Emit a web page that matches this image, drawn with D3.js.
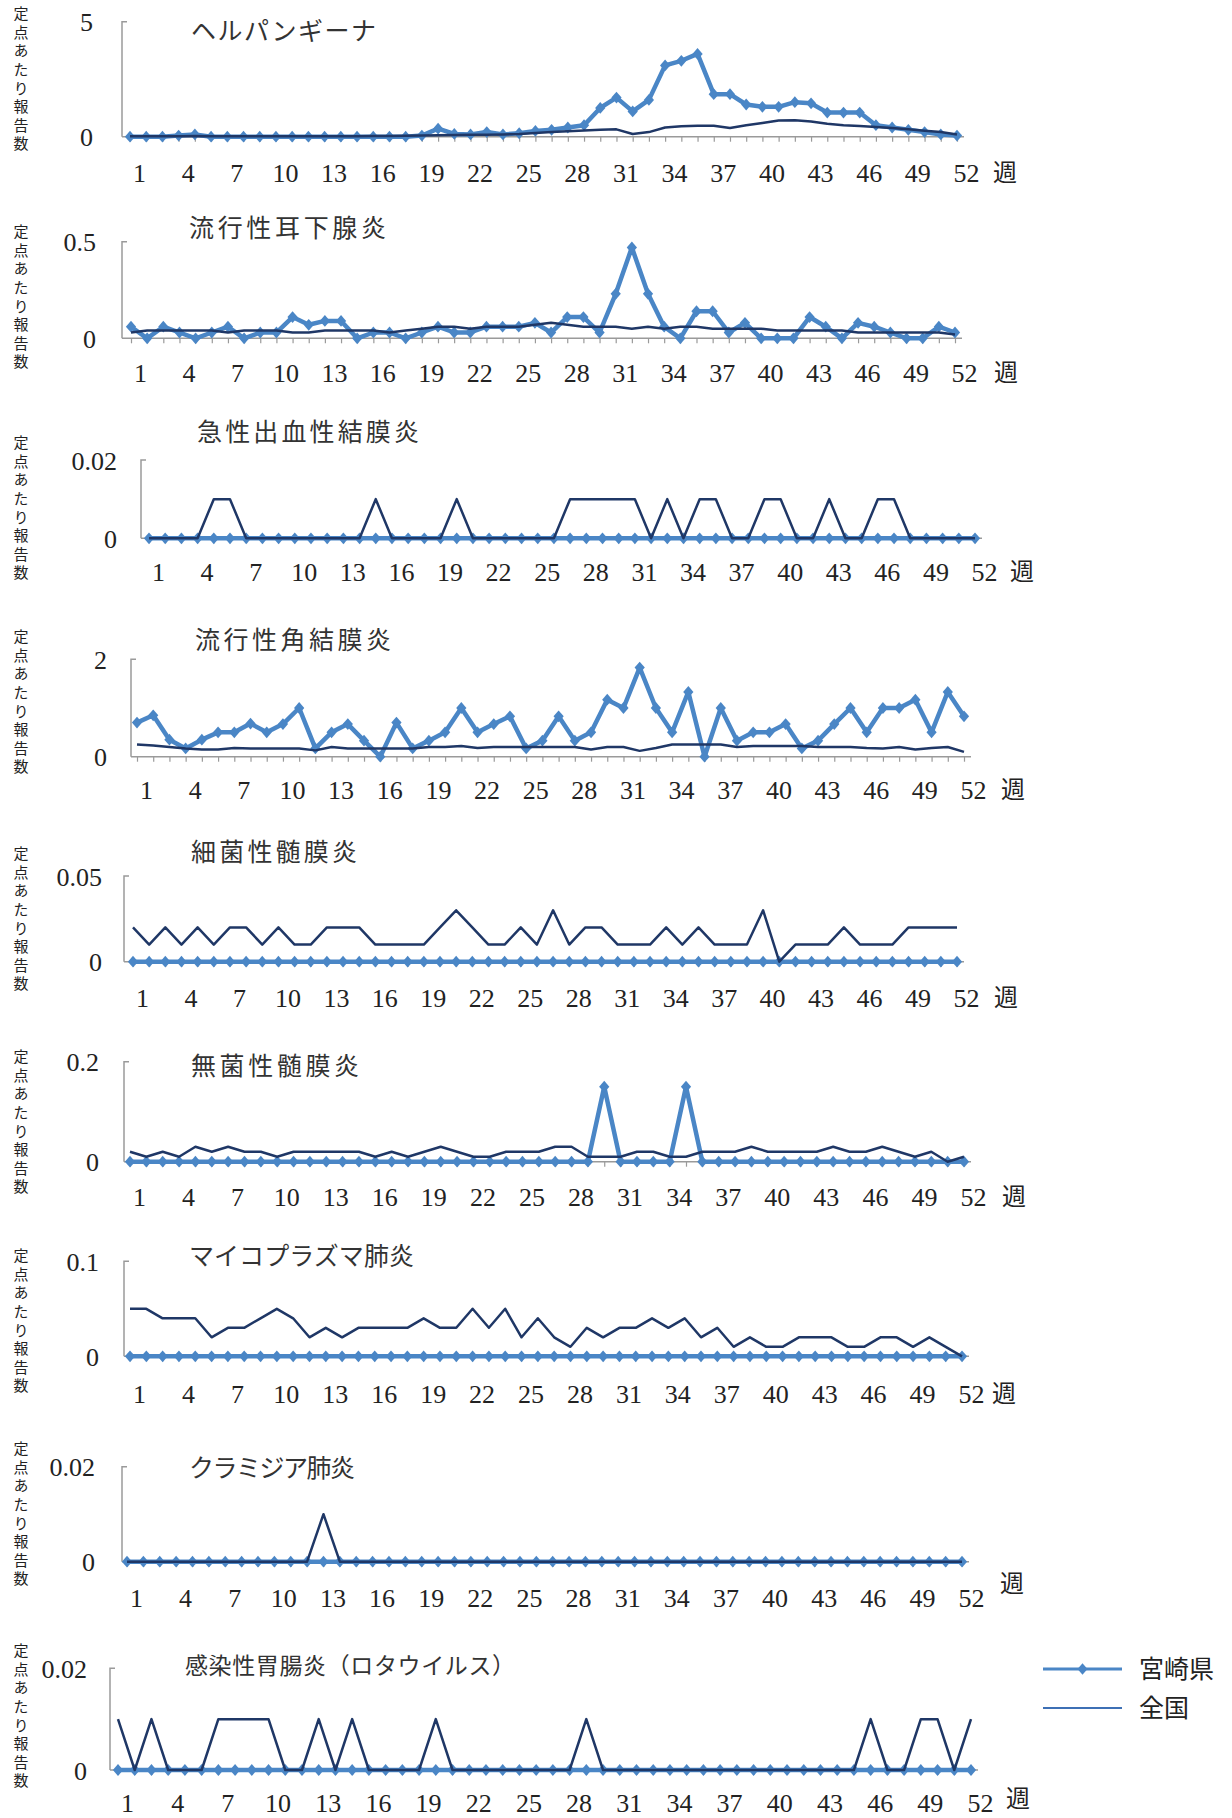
<!DOCTYPE html>
<html>
<head>
<meta charset="utf-8">
<script src="https://cdn.jsdelivr.net/npm/d3@7"></script>
<style>
  body { margin: 0; background: #fff; }
  svg { display: block; }
</style>
</head>
<body>
<svg id="chart"></svg>
<script>
const weeks = d3.range(1, 53);
const weekLabels = [1, 4, 7, 10, 13, 16, 19, 22, 25, 28, 31, 34, 37, 40, 43, 46, 49, 52];
const yAxisTitle = "定点あたり報告数";
const weekUnit = "週";
const legendNames = ["宮崎県", "全国"];

// ヘルパンギーナ
const herpanginaMiyazaki = [0, 0, 0, 0.05, 0.1, 0, 0, 0, 0, 0, 0, 0, 0, 0, 0, 0, 0, 0, 0.05, 0.35, 0.12, 0.1, 0.2, 0.1, 0.15, 0.25, 0.3, 0.4, 0.5, 1.25, 1.7, 1.1, 1.6, 3.1, 3.3, 3.6, 1.85, 1.85, 1.4, 1.3, 1.3, 1.5, 1.45, 1.05, 1.05, 1.05, 0.5, 0.4, 0.3, 0.2, 0.1, 0.05];
const herpanginaNational = [0.02, 0.02, 0.02, 0.02, 0.03, 0.02, 0.02, 0.02, 0.02, 0.02, 0.02, 0.02, 0.02, 0.02, 0.02, 0.03, 0.03, 0.04, 0.05, 0.06, 0.07, 0.08, 0.08, 0.1, 0.12, 0.16, 0.2, 0.24, 0.27, 0.3, 0.32, 0.12, 0.2, 0.4, 0.45, 0.48, 0.48, 0.38, 0.5, 0.6, 0.7, 0.72, 0.66, 0.56, 0.5, 0.46, 0.42, 0.38, 0.32, 0.26, 0.2, 0.1];

// 流行性耳下腺炎
const mumpsMiyazaki = [0.06, 0, 0.06, 0.03, 0, 0.03, 0.06, 0, 0.03, 0.03, 0.11, 0.07, 0.09, 0.09, 0, 0.03, 0.03, 0, 0.03, 0.06, 0.03, 0.03, 0.06, 0.06, 0.06, 0.08, 0.03, 0.11, 0.11, 0.03, 0.23, 0.47, 0.23, 0.06, 0, 0.14, 0.14, 0.03, 0.08, 0, 0, 0, 0.11, 0.06, 0, 0.08, 0.06, 0.03, 0, 0, 0.06, 0.03];
const mumpsNational = [0.03, 0.04, 0.04, 0.04, 0.04, 0.04, 0.03, 0.04, 0.04, 0.04, 0.03, 0.03, 0.04, 0.04, 0.04, 0.04, 0.03, 0.04, 0.05, 0.06, 0.06, 0.05, 0.06, 0.06, 0.06, 0.07, 0.08, 0.07, 0.06, 0.06, 0.06, 0.05, 0.06, 0.05, 0.06, 0.06, 0.05, 0.05, 0.05, 0.05, 0.04, 0.04, 0.04, 0.04, 0.04, 0.03, 0.03, 0.03, 0.03, 0.03, 0.03, 0.02];

// 急性出血性結膜炎
const ahcMiyazaki = [0, 0, 0, 0, 0, 0, 0, 0, 0, 0, 0, 0, 0, 0, 0, 0, 0, 0, 0, 0, 0, 0, 0, 0, 0, 0, 0, 0, 0, 0, 0, 0, 0, 0, 0, 0, 0, 0, 0, 0, 0, 0, 0, 0, 0, 0, 0, 0, 0, 0, 0, 0];
const ahcNational = [0, 0, 0, 0, 0.01, 0.01, 0, 0, 0, 0, 0, 0, 0, 0, 0.01, 0, 0, 0, 0, 0.01, 0, 0, 0, 0, 0, 0, 0.01, 0.01, 0.01, 0.01, 0.01, 0, 0.01, 0, 0.01, 0.01, 0, 0, 0.01, 0.01, 0, 0, 0.01, 0, 0, 0.01, 0.01, 0, 0, 0, 0, 0];

// 流行性角結膜炎
const ekcMiyazaki = [0.7, 0.85, 0.35, 0.17, 0.35, 0.5, 0.5, 0.68, 0.5, 0.67, 1.0, 0.17, 0.5, 0.67, 0.33, 0, 0.7, 0.17, 0.33, 0.5, 1.0, 0.5, 0.67, 0.83, 0.17, 0.33, 0.83, 0.33, 0.5, 1.17, 1.0, 1.83, 1.0, 0.5, 1.33, 0, 1.0, 0.33, 0.5, 0.5, 0.67, 0.17, 0.33, 0.67, 1.0, 0.5, 1.0, 1.0, 1.17, 0.5, 1.33, 0.83];
const ekcNational = [0.25, 0.23, 0.2, 0.17, 0.15, 0.15, 0.18, 0.17, 0.17, 0.17, 0.17, 0.13, 0.2, 0.17, 0.17, 0.17, 0.17, 0.17, 0.2, 0.2, 0.22, 0.18, 0.2, 0.2, 0.2, 0.2, 0.2, 0.2, 0.15, 0.2, 0.2, 0.12, 0.18, 0.25, 0.25, 0.25, 0.25, 0.2, 0.22, 0.22, 0.22, 0.22, 0.2, 0.2, 0.2, 0.18, 0.17, 0.2, 0.15, 0.18, 0.2, 0.1];

// 細菌性髄膜炎
const bmMiyazaki = [0, 0, 0, 0, 0, 0, 0, 0, 0, 0, 0, 0, 0, 0, 0, 0, 0, 0, 0, 0, 0, 0, 0, 0, 0, 0, 0, 0, 0, 0, 0, 0, 0, 0, 0, 0, 0, 0, 0, 0, 0, 0, 0, 0, 0, 0, 0, 0, 0, 0, 0, 0];
const bmNational = [0.02, 0.01, 0.02, 0.01, 0.02, 0.01, 0.02, 0.02, 0.01, 0.02, 0.01, 0.01, 0.02, 0.02, 0.02, 0.01, 0.01, 0.01, 0.01, 0.02, 0.03, 0.02, 0.01, 0.01, 0.02, 0.01, 0.03, 0.01, 0.02, 0.02, 0.01, 0.01, 0.01, 0.02, 0.01, 0.02, 0.01, 0.01, 0.01, 0.03, 0, 0.01, 0.01, 0.01, 0.02, 0.01, 0.01, 0.01, 0.02, 0.02, 0.02, 0.02];

// 無菌性髄膜炎
const amMiyazaki = [0, 0, 0, 0, 0, 0, 0, 0, 0, 0, 0, 0, 0, 0, 0, 0, 0, 0, 0, 0, 0, 0, 0, 0, 0, 0, 0, 0, 0, 0.15, 0, 0, 0, 0, 0.15, 0, 0, 0, 0, 0, 0, 0, 0, 0, 0, 0, 0, 0, 0, 0, 0, 0];
const amNational = [0.02, 0.01, 0.02, 0.01, 0.03, 0.02, 0.03, 0.02, 0.02, 0.01, 0.02, 0.02, 0.02, 0.02, 0.02, 0.01, 0.02, 0.01, 0.02, 0.03, 0.02, 0.01, 0.01, 0.02, 0.02, 0.02, 0.03, 0.03, 0.01, 0.01, 0.01, 0.02, 0.02, 0.01, 0.01, 0.02, 0.02, 0.02, 0.03, 0.02, 0.02, 0.02, 0.02, 0.03, 0.02, 0.02, 0.03, 0.02, 0.01, 0.02, 0, 0.01];

// マイコプラズマ肺炎
const mpMiyazaki = [0, 0, 0, 0, 0, 0, 0, 0, 0, 0, 0, 0, 0, 0, 0, 0, 0, 0, 0, 0, 0, 0, 0, 0, 0, 0, 0, 0, 0, 0, 0, 0, 0, 0, 0, 0, 0, 0, 0, 0, 0, 0, 0, 0, 0, 0, 0, 0, 0, 0, 0, 0];
const mpNational = [0.05, 0.05, 0.04, 0.04, 0.04, 0.02, 0.03, 0.03, 0.04, 0.05, 0.04, 0.02, 0.03, 0.02, 0.03, 0.03, 0.03, 0.03, 0.04, 0.03, 0.03, 0.05, 0.03, 0.05, 0.02, 0.04, 0.02, 0.01, 0.03, 0.02, 0.03, 0.03, 0.04, 0.03, 0.04, 0.02, 0.03, 0.01, 0.02, 0.01, 0.01, 0.02, 0.02, 0.02, 0.01, 0.01, 0.02, 0.02, 0.01, 0.02, 0.01, 0];

// クラミジア肺炎
const cpMiyazaki = [0, 0, 0, 0, 0, 0, 0, 0, 0, 0, 0, 0, 0, 0, 0, 0, 0, 0, 0, 0, 0, 0, 0, 0, 0, 0, 0, 0, 0, 0, 0, 0, 0, 0, 0, 0, 0, 0, 0, 0, 0, 0, 0, 0, 0, 0, 0, 0, 0, 0, 0, 0];
const cpNational = [0, 0, 0, 0, 0, 0, 0, 0, 0, 0, 0, 0, 0.01, 0, 0, 0, 0, 0, 0, 0, 0, 0, 0, 0, 0, 0, 0, 0, 0, 0, 0, 0, 0, 0, 0, 0, 0, 0, 0, 0, 0, 0, 0, 0, 0, 0, 0, 0, 0, 0, 0, 0];

// 感染性胃腸炎（ロタウイルス）
const rotaMiyazaki = [0, 0, 0, 0, 0, 0, 0, 0, 0, 0, 0, 0, 0, 0, 0, 0, 0, 0, 0, 0, 0, 0, 0, 0, 0, 0, 0, 0, 0, 0, 0, 0, 0, 0, 0, 0, 0, 0, 0, 0, 0, 0, 0, 0, 0, 0, 0, 0, 0, 0, 0, 0];
const rotaNational = [0.01, 0, 0.01, 0, 0, 0, 0.01, 0.01, 0.01, 0.01, 0, 0, 0.01, 0, 0.01, 0, 0, 0, 0, 0.01, 0, 0, 0, 0, 0, 0, 0, 0, 0.01, 0, 0, 0, 0, 0, 0, 0, 0, 0, 0, 0, 0, 0, 0, 0, 0, 0.01, 0, 0, 0.01, 0.01, 0, 0.01];

const width = 1232;
const height = 1818;

const colors = {
    miyazaki: "#4a86c6",
    national: "#1f3766",
    legendNational: "#3d70b5",
    axis: "#9a9a9a",
    text: "#222"
};

const serifFont = "'Liberation Serif', 'DejaVu Serif', serif";
const cjkFont = "'Noto Sans CJK JP', 'Noto Sans', sans-serif";

const panels = [
    { title: "ヘルパンギーナ", titleWidth: 185, miyazaki: herpanginaMiyazaki, national: herpanginaNational, max: 5, yLabels: ["0", "5"],
      axisX: 122, x1: 130, x52: 957, yTop: 21.7, y0: 136.7, titleX: 191, titleY: 31.7, labelY: 173, unitX: 1005, unitY: 173, yTitleTop: 6, yGap: 29 },
    { title: "流行性耳下腺炎", titleWidth: 197, miyazaki: mumpsMiyazaki, national: mumpsNational, max: 0.5, yLabels: ["0", "0.5"],
      axisX: 122, x1: 131, x52: 955, yTop: 241.7, y0: 338.3, titleX: 189, titleY: 228, labelY: 373, unitX: 1006, unitY: 373, yTitleTop: 224, yGap: 26 },
    { title: "急性出血性結膜炎", titleWidth: 222, miyazaki: ahcMiyazaki, national: ahcNational, max: 0.02, yLabels: ["0", "0.02"],
      axisX: 141, x1: 149, x52: 975, yTop: 460, y0: 538.3, titleX: 197, titleY: 432, labelY: 572, unitX: 1022, unitY: 572, yTitleTop: 435, yGap: 24 },
    { title: "流行性角結膜炎", titleWidth: 196, miyazaki: ekcMiyazaki, national: ekcNational, max: 2, yLabels: ["0", "2"],
      axisX: 131, x1: 137, x52: 964, yTop: 659.3, y0: 756.7, titleX: 195, titleY: 640, labelY: 790, unitX: 1013, unitY: 790, yTitleTop: 629, yGap: 24 },
    { title: "細菌性髄膜炎", titleWidth: 166, miyazaki: bmMiyazaki, national: bmNational, max: 0.05, yLabels: ["0", "0.05"],
      axisX: 124, x1: 133, x52: 957, yTop: 876, y0: 961.7, titleX: 191, titleY: 852, labelY: 998, unitX: 1006, unitY: 998, yTitleTop: 846, yGap: 22 },
    { title: "無菌性髄膜炎", titleWidth: 168, miyazaki: amMiyazaki, national: amNational, max: 0.2, yLabels: ["0", "0.2"],
      axisX: 124, x1: 130, x52: 964, yTop: 1061.7, y0: 1161.7, titleX: 191, titleY: 1066, labelY: 1197, unitX: 1014, unitY: 1197, yTitleTop: 1049, yGap: 25 },
    { title: "マイコプラズマ肺炎", titleWidth: 225, miyazaki: mpMiyazaki, national: mpNational, max: 0.1, yLabels: ["0", "0.1"],
      axisX: 124, x1: 130, x52: 962, yTop: 1261.3, y0: 1356.3, titleX: 189, titleY: 1256, labelY: 1394, unitX: 1004, unitY: 1394, yTitleTop: 1248, yGap: 25 },
    { title: "クラミジア肺炎", titleWidth: 166, miyazaki: cpMiyazaki, national: cpNational, max: 0.02, yLabels: ["0", "0.02"],
      axisX: 122, x1: 127, x52: 962, yTop: 1466.7, y0: 1561.7, titleX: 189, titleY: 1468, labelY: 1598, unitX: 1012, unitY: 1584, yTitleTop: 1441, yGap: 27 },
    { title: "感染性胃腸炎（ロタウイルス）", titleWidth: 330, miyazaki: rotaMiyazaki, national: rotaNational, max: 0.02, yLabels: ["0", "0.02"],
      axisX: 110, x1: 118, x52: 971, yTop: 1668.3, y0: 1770, titleX: 185, titleY: 1666, labelY: 1803, unitX: 1018, unitY: 1799, yTitleTop: 1643, yGap: 23, titleSize: 23 }
];

const diamond = {
    draw(context, size) {
        const r = Math.sqrt(size) / 2;
        context.moveTo(0, -r * 1.15);
        context.lineTo(r, 0);
        context.lineTo(0, r * 1.15);
        context.lineTo(-r, 0);
        context.closePath();
    }
};

const svg = d3.select("#chart").attr("width", width).attr("height", height).attr("viewBox", `0 0 ${width} ${height}`);
svg.append("rect").attr("width", width).attr("height", height).attr("fill", "#fff");

panels.forEach((p) => drawPanel(svg.append("g").attr("class", "panel"), p));
drawLegend(svg.append("g").attr("class", "legend"));

function drawPanel(g, p) {
    const x = d3.scalePoint().domain(weeks).range([p.x1, p.x52]);
    const y = d3.scaleLinear().domain([0, p.max]).range([p.y0, p.yTop]);

    // vertical y axis title
    g.append("text")
        .attr("x", 21)
        .attr("y", p.yTitleTop)
        .attr("font-family", cjkFont)
        .attr("font-size", 15)
        .attr("fill", colors.text)
        .style("writing-mode", "vertical-rl")
        .style("text-orientation", "upright")
        .style("letter-spacing", "3.6px")
        .text(yAxisTitle);

    // y axis line with small top stub
    g.append("path")
        .attr("d", `M${p.axisX + 5},${y(p.max)}H${p.axisX}V${y(0)}`)
        .attr("fill", "none")
        .attr("stroke", colors.axis)
        .attr("stroke-width", 1.5);

    const yAxis = d3.axisLeft(y).tickValues([0, p.max]).tickSize(0).tickPadding(0).tickFormat((d, i) => p.yLabels[i]);
    const yg = g.append("g").attr("transform", `translate(${p.axisX - p.yGap},0)`).call(yAxis);
    yg.select(".domain").remove();
    yg.selectAll("text")
        .attr("font-family", serifFont)
        .attr("font-size", 26)
        .attr("fill", colors.text)
        .attr("dy", "0.35em");

    // x axis base line and ticks
    g.append("line")
        .attr("x1", p.axisX)
        .attr("x2", x(52) + 7)
        .attr("y1", y(0))
        .attr("y2", y(0))
        .attr("stroke", colors.axis)
        .attr("stroke-width", 1.5);

    const tickAxis = d3.axisBottom(x).tickValues(weeks).tickSize(5).tickFormat("");
    const tg = g.append("g").attr("transform", `translate(0,${y(0)})`).call(tickAxis);
    tg.select(".domain").remove();
    tg.selectAll("line").attr("stroke", colors.axis).attr("stroke-width", 1.2);

    const labelAxis = d3.axisBottom(x).tickValues(weekLabels).tickSize(0).tickPadding(0);
    const lg = g.append("g").attr("transform", `translate(0,${p.labelY})`).call(labelAxis);
    lg.select(".domain").remove();
    lg.selectAll("text")
        .attr("font-family", serifFont)
        .attr("font-size", 26)
        .attr("fill", colors.text)
        .attr("dx", 9)
        .attr("y", 0)
        .attr("dy", "0.35em");

    g.append("text")
        .attr("x", p.unitX)
        .attr("y", p.unitY)
        .attr("dy", "0.35em")
        .attr("text-anchor", "middle")
        .attr("font-family", cjkFont)
        .attr("font-size", 24)
        .attr("fill", colors.text)
        .text(weekUnit);

    // title
    g.append("text")
        .attr("x", p.titleX)
        .attr("y", p.titleY)
        .attr("dy", "0.35em")
        .attr("font-family", cjkFont)
        .attr("font-size", p.titleSize || 25)
        .attr("fill", "#333")
        .attr("textLength", p.titleWidth)
        .attr("lengthAdjust", "spacing")
        .text(p.title);

    const line = d3.line().x((d, i) => x(weeks[i])).y((d) => y(d));

    // 宮崎県 series (thick, diamonds)
    g.append("path")
        .datum(p.miyazaki)
        .attr("fill", "none")
        .attr("stroke", colors.miyazaki)
        .attr("stroke-width", 4.5)
        .attr("stroke-linejoin", "round")
        .attr("d", line);

    g.append("g")
        .selectAll("path")
        .data(p.miyazaki)
        .join("path")
        .attr("transform", (d, i) => `translate(${x(weeks[i])},${y(d)})`)
        .attr("d", d3.symbol(diamond, 105))
        .attr("fill", colors.miyazaki);

    // 全国 series on top
    g.append("path")
        .datum(p.national)
        .attr("fill", "none")
        .attr("stroke", colors.national)
        .attr("stroke-width", 2.5)
        .attr("stroke-linejoin", "round")
        .attr("d", line);
}

function drawLegend(g) {
    const rows = d3.scalePoint().domain(legendNames).range([1669, 1708]);
    const lineX = d3.scaleLinear().domain([0, 1]).range([1043, 1122]);

    legendNames.forEach((name, i) => {
        g.append("line")
            .attr("x1", lineX(0))
            .attr("x2", lineX(1))
            .attr("y1", rows(name))
            .attr("y2", rows(name))
            .attr("stroke", i === 0 ? colors.miyazaki : colors.legendNational)
            .attr("stroke-width", i === 0 ? 3 : 2);

        if (i === 0) {
            g.append("path")
                .attr("transform", `translate(${lineX(0.5)},${rows(name)})`)
                .attr("d", d3.symbol(diamond, 100))
                .attr("fill", colors.miyazaki);
        }

        g.append("text")
            .attr("x", 1139)
            .attr("y", rows(name))
            .attr("dy", "0.35em")
            .attr("font-family", cjkFont)
            .attr("font-size", 25)
            .attr("fill", colors.text)
            .text(name);
    });
}
</script>
</body>
</html>
